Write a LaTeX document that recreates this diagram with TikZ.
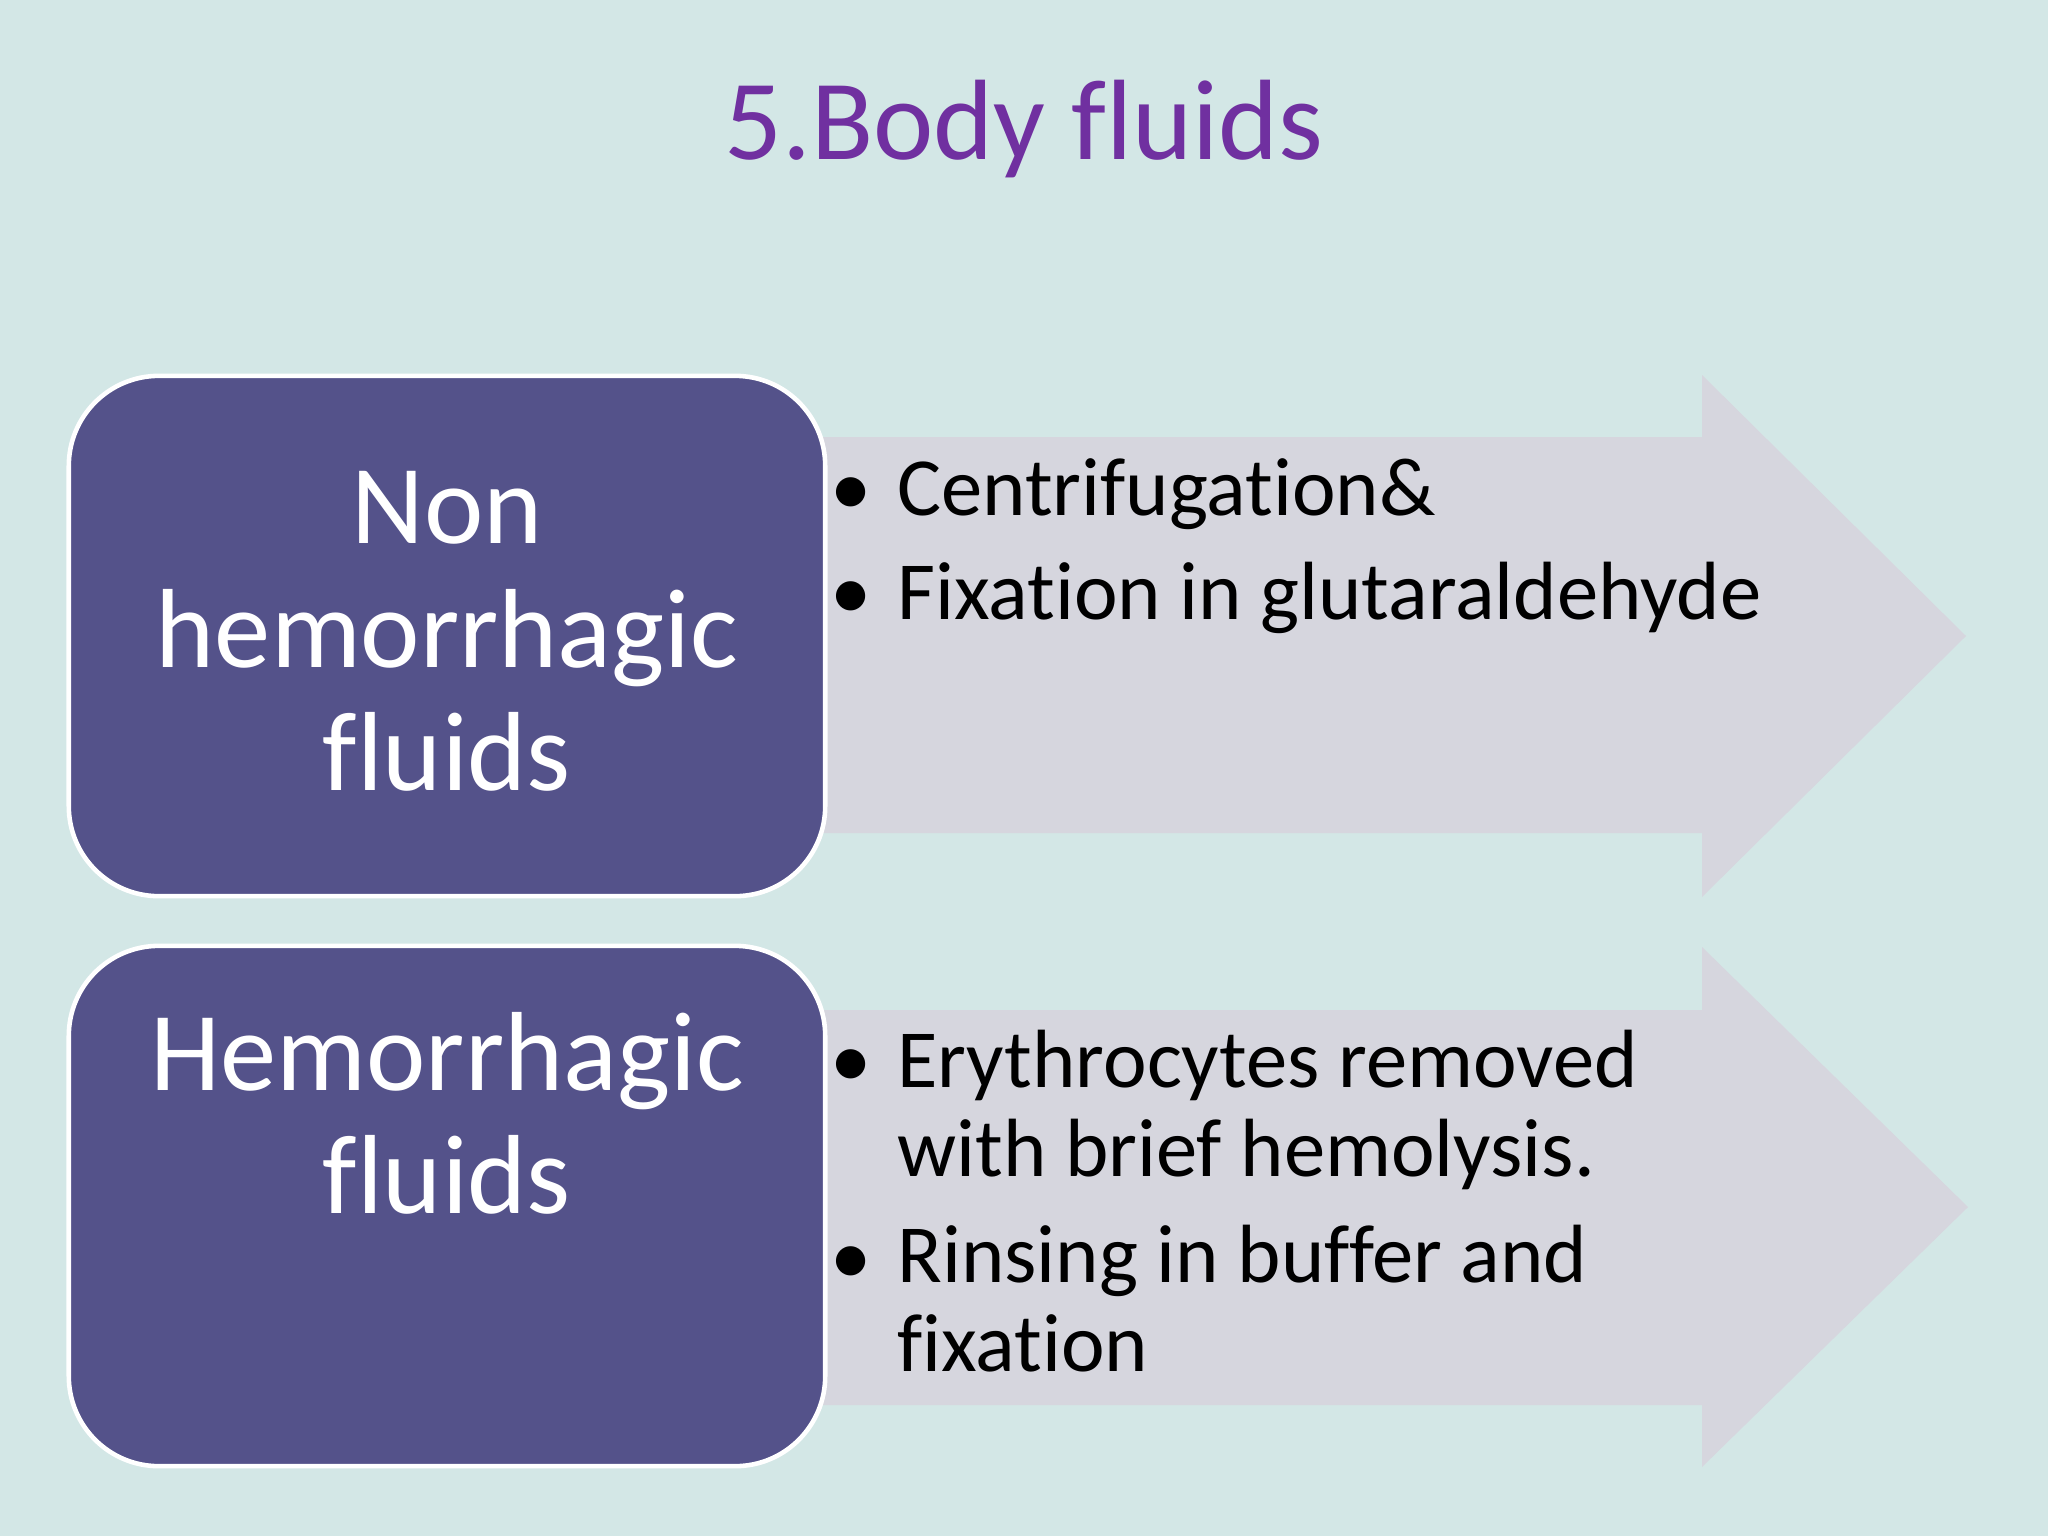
\documentclass[tikz,border=0pt]{standalone}
\usepackage{fontspec}
\setmainfont{Carlito}[Ligatures=NoCommon]
\usetikzlibrary{positioning}
\definecolor{slidebg}{RGB}{211,231,230}
\definecolor{groupfill}{RGB}{84,82,138}
\definecolor{stepfill}{RGB}{214,214,222}
\definecolor{titlepurple}{RGB}{112,48,160}

\begin{document}
\begin{tikzpicture}[
    x=0.01cm, y=-0.01cm,
    groupbox/.style={draw=white, line width=1.3pt, fill=groupfill, rounded corners=0.9cm, minimum width=7.56cm, minimum height=5.2cm},
    grouptext/.style={text=white, font=\fontsize{32}{35.3}\selectfont, anchor=base},
    stepitem/.style={anchor=base west, align=left, font=\fontsize{23.5}{25.3}\selectfont},
    stepdot/.style={anchor=base, font=\fontsize{23.5}{25.3}\selectfont}
]
    % Background
    \fill[slidebg] (0,0) rectangle (2048,1536);
    \useasboundingbox (0,0) rectangle (2048,1536);

    % Title
    \node[anchor=base, text=titlepurple, font=\fontsize{32.5}{36}\selectfont] (title) at (1024,159) {5.Body fluids};

    % Arrows
    \fill[stepfill] (700,437) -- (1702,437) -- (1702,375) -- (1966,636) -- (1702,897) -- (1702,833) -- (700,833) -- cycle;
    \fill[stepfill] (700,1010) -- (1702,1010) -- (1702,947) -- (1968,1207) -- (1702,1467) -- (1702,1405) -- (700,1405) -- cycle;

    % Groups
    \node[groupbox] (nonhem) at (447,636) {};
    \node[groupbox] (hem) at (447,1206) {};
    \node[grouptext] (nonhemA) at (447,543) {Non};
    \node[grouptext] (nonhemB) at (447,667) {hemorrhagic};
    \node[grouptext] (nonhemC) at (447,790) {fluids};
    \node[grouptext] (hemA) at (447,1090) {Hemorrhagic};
    \node[grouptext] (hemB) at (447,1213) {fluids};

    % Steps (multi-line nodes sit on their last line)
    \node[stepdot] (dotA) at (851,515) {\textbullet};
    \node[stepitem] (centri) at (885,515) {Centrifugation\&};
    \node[stepdot] (dotB) at (851,619) {\textbullet};
    \node[stepitem] (fixglut) at (885,619) {Fixation in glutaraldehyde};
    \node[stepdot] (dotC) at (851,1087) {\textbullet};
    \node[stepitem] (erythro) at (885,1176) {Erythrocytes removed\\with brief hemolysis.};
    \node[stepdot] (dotD) at (851,1284) {\textbullet};
    \node[stepitem] (rinse) at (885,1371) {Rinsing in buffer and\\fixation};
\end{tikzpicture}
\end{document}
